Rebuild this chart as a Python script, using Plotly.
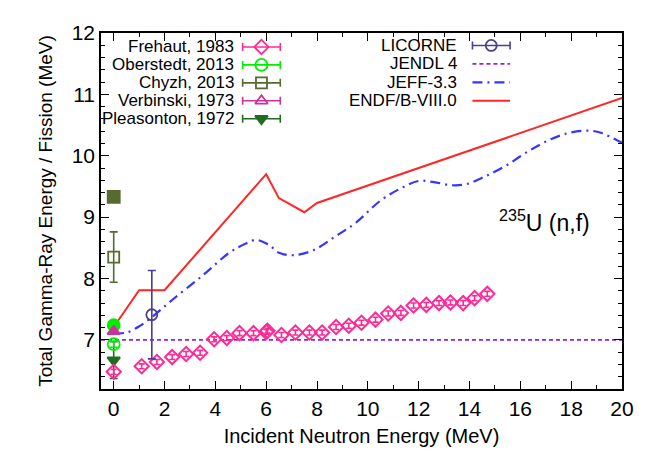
import plotly.graph_objects as go

# ---- evaluated data -------------------------------------------------------
endf_e = [0.0, 1.0, 2.0, 6.0, 6.5, 7.5, 8.0, 20.0]
endf_v = [7.21, 7.81, 7.81, 9.70, 9.31, 9.08, 9.23, 10.94]

jeff_e = [0.0, 0.5, 1.0, 1.5, 2.3, 3.5, 4.55, 5.2, 5.6, 6.1, 6.5, 7.1, 7.9,
          8.7, 9.5, 10.5, 11.3, 12.0, 12.6, 13.3, 13.9, 14.6, 15.4, 16.3,
          17.2, 18.0, 18.7, 19.2, 20.0]
jeff_v = [7.11, 7.12, 7.22, 7.37, 7.65, 8.05, 8.42, 8.57, 8.63, 8.55, 8.42,
          8.38, 8.47, 8.68, 8.90, 9.27, 9.47, 9.59, 9.57, 9.52, 9.54, 9.66,
          9.83, 10.07, 10.27, 10.38, 10.41, 10.37, 10.21]

jendl_e = [-0.5, 20.0]
jendl_v = [7.0, 7.0]

# ---- measurements ---------------------------------------------------------
frehaut_e = [0.0, 1.1, 1.7, 2.3, 2.85, 3.4, 3.95, 4.45, 4.95, 5.5, 6.0, 6.05,
             6.6, 7.15, 7.7, 8.2, 8.75, 9.25, 9.75, 10.3, 10.8, 11.3, 11.8,
             12.3, 12.8, 13.25, 13.75, 14.2, 14.7]
frehaut_v = [6.48, 6.57, 6.64, 6.72, 6.77, 6.79, 7.01, 7.03, 7.11, 7.11, 7.13,
             7.15, 7.08, 7.12, 7.12, 7.12, 7.21, 7.23, 7.28, 7.33, 7.43, 7.44,
             7.56, 7.57, 7.60, 7.61, 7.60, 7.68, 7.75]
frehaut_err = [0.04] * len(frehaut_e)

oberstedt_e = [0.0]
oberstedt_v = [6.93]
oberstedt_err = [0.05]
oberstedt2_e = [0.0]
oberstedt2_v = [7.24]

chyzh_e = [0.0]
chyzh_v = [8.35]
chyzh_err = [0.41]
chyzh2_e = [0.0]
chyzh2_v = [9.33]

verbinski_e = [0.0]
verbinski_v = [7.14]

pleasonton_e = [0.0]
pleasonton_v = [6.67]
pleasonton_err = [0.30]

licorne_e = [1.5]
licorne_v = [7.41]
licorne_err = [0.72]

# ---- legend entries -------------------------------------------------------
left_labels = ["Frehaut, 1983", "Oberstedt, 2013", "Chyzh, 2013",
               "Verbinski, 1973", "Pleasonton, 1972"]
right_labels = ["LICORNE", "JENDL 4", "JEFF-3.3", "ENDF/B-VIII.0"]

C_FREHAUT = "#ff2a96"
C_OBERSTEDT = "#00ee00"
C_CHYZH = "#556b2f"
C_VERBINSKI = "#cc3399"
C_PLEASONTON = "#1f6e1f"
C_LICORNE = "#4b3f8f"
C_JENDL = "#9a1fe0"
C_JEFF = "#3535ff"
C_ENDF = "#ff2626"

FONT = "Liberation Sans, Arial, sans-serif"

fig = go.Figure()

# model curves
fig.add_trace(go.Scatter(x=jendl_e, y=jendl_v, mode="lines",
                         line=dict(color=C_JENDL, width=1.6, dash="4px,3px"),
                         showlegend=False))
fig.add_trace(go.Scatter(x=jeff_e, y=jeff_v, mode="lines", line_shape="spline",
                         line=dict(color=C_JEFF, width=2.2,
                                   dash="10px,5px,2px,5px"),
                         showlegend=False))
fig.add_trace(go.Scatter(x=endf_e, y=endf_v, mode="lines",
                         line=dict(color=C_ENDF, width=2.0),
                         showlegend=False))


def points(x, y, color, symbol, size=11, err=None, cap=4, lw=1.8):
    kw = {}
    if err is not None:
        kw["error_y"] = dict(type="data", array=err, color=color,
                             thickness=1.6, width=cap)
    return go.Scatter(x=x, y=y, mode="markers", showlegend=False,
                      marker=dict(symbol=symbol, size=size, color=color,
                                  line=dict(color=color, width=lw)),
                      **kw)


fig.add_trace(points(pleasonton_e, pleasonton_v, C_PLEASONTON,
                     "triangle-down", 11, pleasonton_err))
fig.add_trace(points(frehaut_e, frehaut_v, C_FREHAUT, "diamond-open", 11,
                     frehaut_err, cap=3, lw=2))
fig.add_trace(points(oberstedt_e, oberstedt_v, C_OBERSTEDT, "circle-open", 12,
                     oberstedt_err))
fig.add_trace(points(oberstedt2_e, oberstedt2_v, C_OBERSTEDT, "circle", 12))
fig.add_trace(points(verbinski_e, verbinski_v, C_VERBINSKI, "triangle-up", 11))
fig.add_trace(points(chyzh_e, chyzh_v, C_CHYZH, "square-open", 11,
                     chyzh_err))
fig.add_trace(points(chyzh2_e, chyzh2_v, C_CHYZH, "square", 12))
fig.add_trace(points(licorne_e, licorne_v, C_LICORNE, "circle-open", 11,
                     licorne_err))

# ---- key drawn on an overlay axis measured in pixels ----------------------
row_l = [47, 65, 83, 101, 119]
row_r = [45.5, 64, 82.5, 101]
left_text_x, left_sample_x = 236, 263
right_text_x, right_sample_x = 461, 495
half = 19

key_styles = [
    (C_FREHAUT, "diamond-open", 11),
    (C_OBERSTEDT, "circle-open", 12),
    (C_CHYZH, "square-open", 11),
    (C_VERBINSKI, "triangle-up-open", 11),
    (C_PLEASONTON, "triangle-down", 11),
]
for (color, sym, size), yy in zip(key_styles, row_l):
    fig.add_trace(go.Scatter(
        x=[left_sample_x], y=[yy], xaxis="x2", yaxis="y2", mode="markers",
        showlegend=False, hoverinfo="skip",
        marker=dict(symbol=sym, size=size, color=color,
                    line=dict(color=color, width=1.8)),
        error_x=dict(type="data", array=[half], color=color, thickness=1.6,
                     width=4)))

fig.add_trace(go.Scatter(
    x=[right_sample_x], y=[row_r[0]], xaxis="x2", yaxis="y2", mode="markers",
    showlegend=False, hoverinfo="skip",
    marker=dict(symbol="circle-open", size=11, color=C_LICORNE,
                line=dict(color=C_LICORNE, width=1.8)),
    error_x=dict(type="data", array=[half], color=C_LICORNE, thickness=1.6,
                 width=4)))
for yy, color, dash, w in [(row_r[1], C_JENDL, "4px,3px", 1.6),
                           (row_r[2], C_JEFF, "10px,5px,2px,5px", 2.2),
                           (row_r[3], C_ENDF, "solid", 2.0)]:
    fig.add_trace(go.Scatter(
        x=[right_sample_x - half, right_sample_x + half], y=[yy, yy],
        xaxis="x2", yaxis="y2", mode="lines", showlegend=False,
        hoverinfo="skip", line=dict(color=color, width=w, dash=dash)))

annotations = []
for label, yy in zip(left_labels, row_l):
    annotations.append(dict(x=left_text_x, y=yy, xref="x2", yref="y2",
                            text=label, showarrow=False, xanchor="right",
                            yanchor="middle", borderpad=0,
                            font=dict(family=FONT, size=17, color="black")))
for label, yy in zip(right_labels, row_r):
    annotations.append(dict(x=right_text_x, y=yy, xref="x2", yref="y2",
                            text=label, showarrow=False, xanchor="right",
                            yanchor="middle", borderpad=0,
                            font=dict(family=FONT, size=17, color="black")))
annotations.append(dict(x=501, y=222, xref="x2", yref="y2",
                        text="<sup>235</sup>U (n,f)", showarrow=False,
                        xanchor="left", yanchor="middle",
                        font=dict(family=FONT, size=23, color="black")))

axis_common = dict(showline=True, linecolor="black", linewidth=1.5,
                   mirror="ticks", ticks="inside", ticklen=8, tickwidth=1.2,
                   tickcolor="black", showgrid=False, zeroline=False,
                   tickfont=dict(family=FONT, size=21, color="black"))

fig.update_layout(
    width=646, height=456,
    margin=dict(l=101, r=19, t=33, b=66),
    paper_bgcolor="white", plot_bgcolor="white",
    font=dict(family=FONT, color="black"),
    annotations=annotations,
    xaxis=dict(range=[-0.5, 20], tick0=0, dtick=2,
               minor=dict(dtick=1, ticks="inside", ticklen=4,
                          tickcolor="black", tickwidth=1.2),
               title=dict(text="Incident Neutron Energy (MeV)",
                          font=dict(family=FONT, size=20), standoff=10),
               **axis_common),
    yaxis=dict(range=[6.2, 12], tick0=7, dtick=1,
               minor=dict(dtick=0.2, ticks="inside", ticklen=4,
                          tickcolor="black", tickwidth=1.2),
               title=dict(text="Total Gamma-Ray Energy / Fission (MeV)",
                          font=dict(family=FONT, size=19), standoff=14),
               **axis_common),
    xaxis2=dict(overlaying="x", range=[101, 627], visible=False),
    yaxis2=dict(overlaying="y", range=[390, 33], visible=False),
)

fig.write_html("out.html")
